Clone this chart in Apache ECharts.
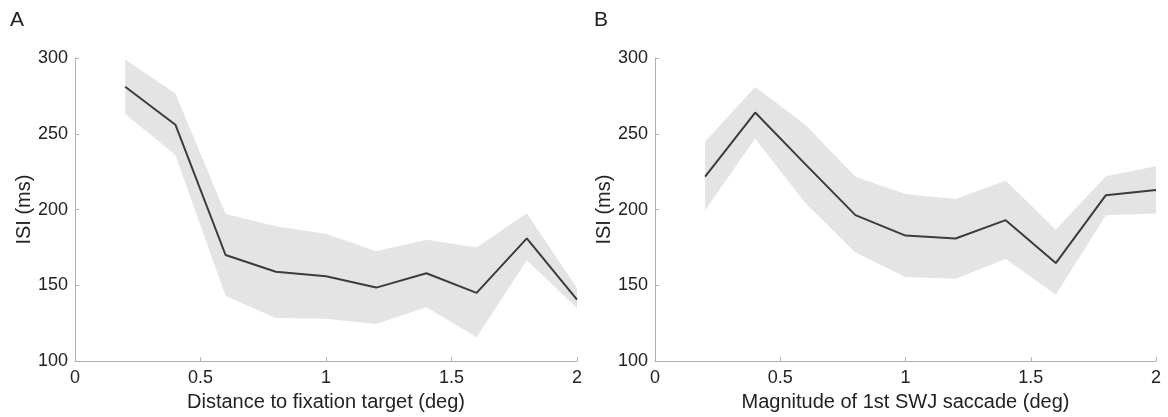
<!DOCTYPE html>
<html>
<head>
<meta charset="utf-8">
<script src="https://cdn.jsdelivr.net/npm/echarts@6/dist/echarts.min.js"></script>
<style>html,body{margin:0;padding:0;background:#fff;}#c{width:1168px;height:417px;}</style>
</head>
<body>
<div id="c"></div>
<script>
const xs = [0.2, 0.4, 0.6, 0.8, 1.0, 1.2, 1.4, 1.6, 1.8, 2.0];
const meanA = [281, 256, 170, 159, 156, 148.5, 158, 145, 181, 140.5];
const upperA = [299, 276.5, 197, 189, 184, 172.5, 180, 175, 197.5, 148];
const lowerA = [263, 236, 143, 128.5, 128, 124.5, 135.5, 115.7, 166.5, 135];
const meanB = [221.7, 264, 230, 196.3, 182.8, 180.9, 193, 164.7, 209.5, 212.9];
const upperB = [244.7, 280.9, 255.9, 221.7, 210.3, 207, 219, 186.7, 222, 228.6];
const lowerB = [199.6, 246.9, 204.3, 171.6, 155.5, 154.4, 167.3, 143.7, 196.3, 197.4];
const panelLabels = ['A', 'B'];
const xTitles = ['Distance to fixation target (deg)', 'Magnitude of 1st SWJ saccade (deg)'];
const yTitle = 'ISI (ms)';

const FONT = 'Liberation Sans, Arial, Helvetica, sans-serif';
const axisGray = '#b0b0b0';
const textCol = '#222';

function pairs(v) { return xs.map((x, i) => [x, v[i]]); }

function xAxis(idx) {
  return {
    type: 'value', gridIndex: idx, min: 0, max: 2, interval: 0.5,
    name: xTitles[idx], nameLocation: 'middle', nameGap: 27,
    nameTextStyle: { fontFamily: FONT, fontSize: 20, color: textCol },
    axisLine: { show: true, lineStyle: { color: axisGray, width: 1 } },
    axisTick: { show: true, inside: true, length: 4, lineStyle: { color: axisGray } },
    axisLabel: { fontFamily: FONT, fontSize: 18, color: textCol, margin: 8 },
    splitLine: { show: false }
  };
}
function yAxis(idx) {
  return {
    type: 'value', gridIndex: idx, min: 100, max: 300, interval: 50,
    name: yTitle, nameLocation: 'middle', nameGap: 41,
    nameTextStyle: { fontFamily: FONT, fontSize: 20, color: textCol },
    axisLine: { show: true, lineStyle: { color: axisGray, width: 1 } },
    axisTick: { show: true, inside: true, length: 4, lineStyle: { color: axisGray } },
    axisLabel: { fontFamily: FONT, fontSize: 18, color: textCol, margin: 7 },
    splitLine: { show: false }
  };
}
function bandSeries(idx, lower, upper, mean) {
  const bandData = xs.map((x, i) => [x, lower[i], upper[i]]);
  return [
    { type: 'custom', xAxisIndex: idx, yAxisIndex: idx, data: bandData, silent: true,
      encode: { x: 0, y: [1, 2] },
      renderItem: function (params, api) {
        if (params.dataIndex !== 0) return null;
        const pts = [];
        for (let i = 0; i < bandData.length; i++) pts.push(api.coord([bandData[i][0], bandData[i][2]]));
        for (let i = bandData.length - 1; i >= 0; i--) pts.push(api.coord([bandData[i][0], bandData[i][1]]));
        return { type: 'polygon', shape: { points: pts }, style: { fill: '#e4e4e4' } };
      }
    },
    { type: 'line', xAxisIndex: idx, yAxisIndex: idx, data: pairs(mean), z: 3,
      symbol: 'none', lineStyle: { color: '#3c3c3c', width: 2 } }
  ];
}

const chart = echarts.init(document.getElementById('c'));
chart.setOption({
  backgroundColor: '#fff',
  animation: false,
  grid: [
    { left: 75, right: 591, top: 58, bottom: 52 },
    { left: 655, right: 12, top: 58, bottom: 50 }
  ],
  xAxis: [xAxis(0), xAxis(1)],
  yAxis: [yAxis(0), yAxis(1)],
  graphic: [
    { type: 'text', left: 10, top: 10, style: { text: panelLabels[0], font: '21px ' + FONT, fill: textCol } },
    { type: 'text', left: 594, top: 10, style: { text: panelLabels[1], font: '21px ' + FONT, fill: textCol } }
  ],
  series: [].concat(bandSeries(0, lowerA, upperA, meanA), bandSeries(1, lowerB, upperB, meanB))
});
</script>
</body>
</html>
